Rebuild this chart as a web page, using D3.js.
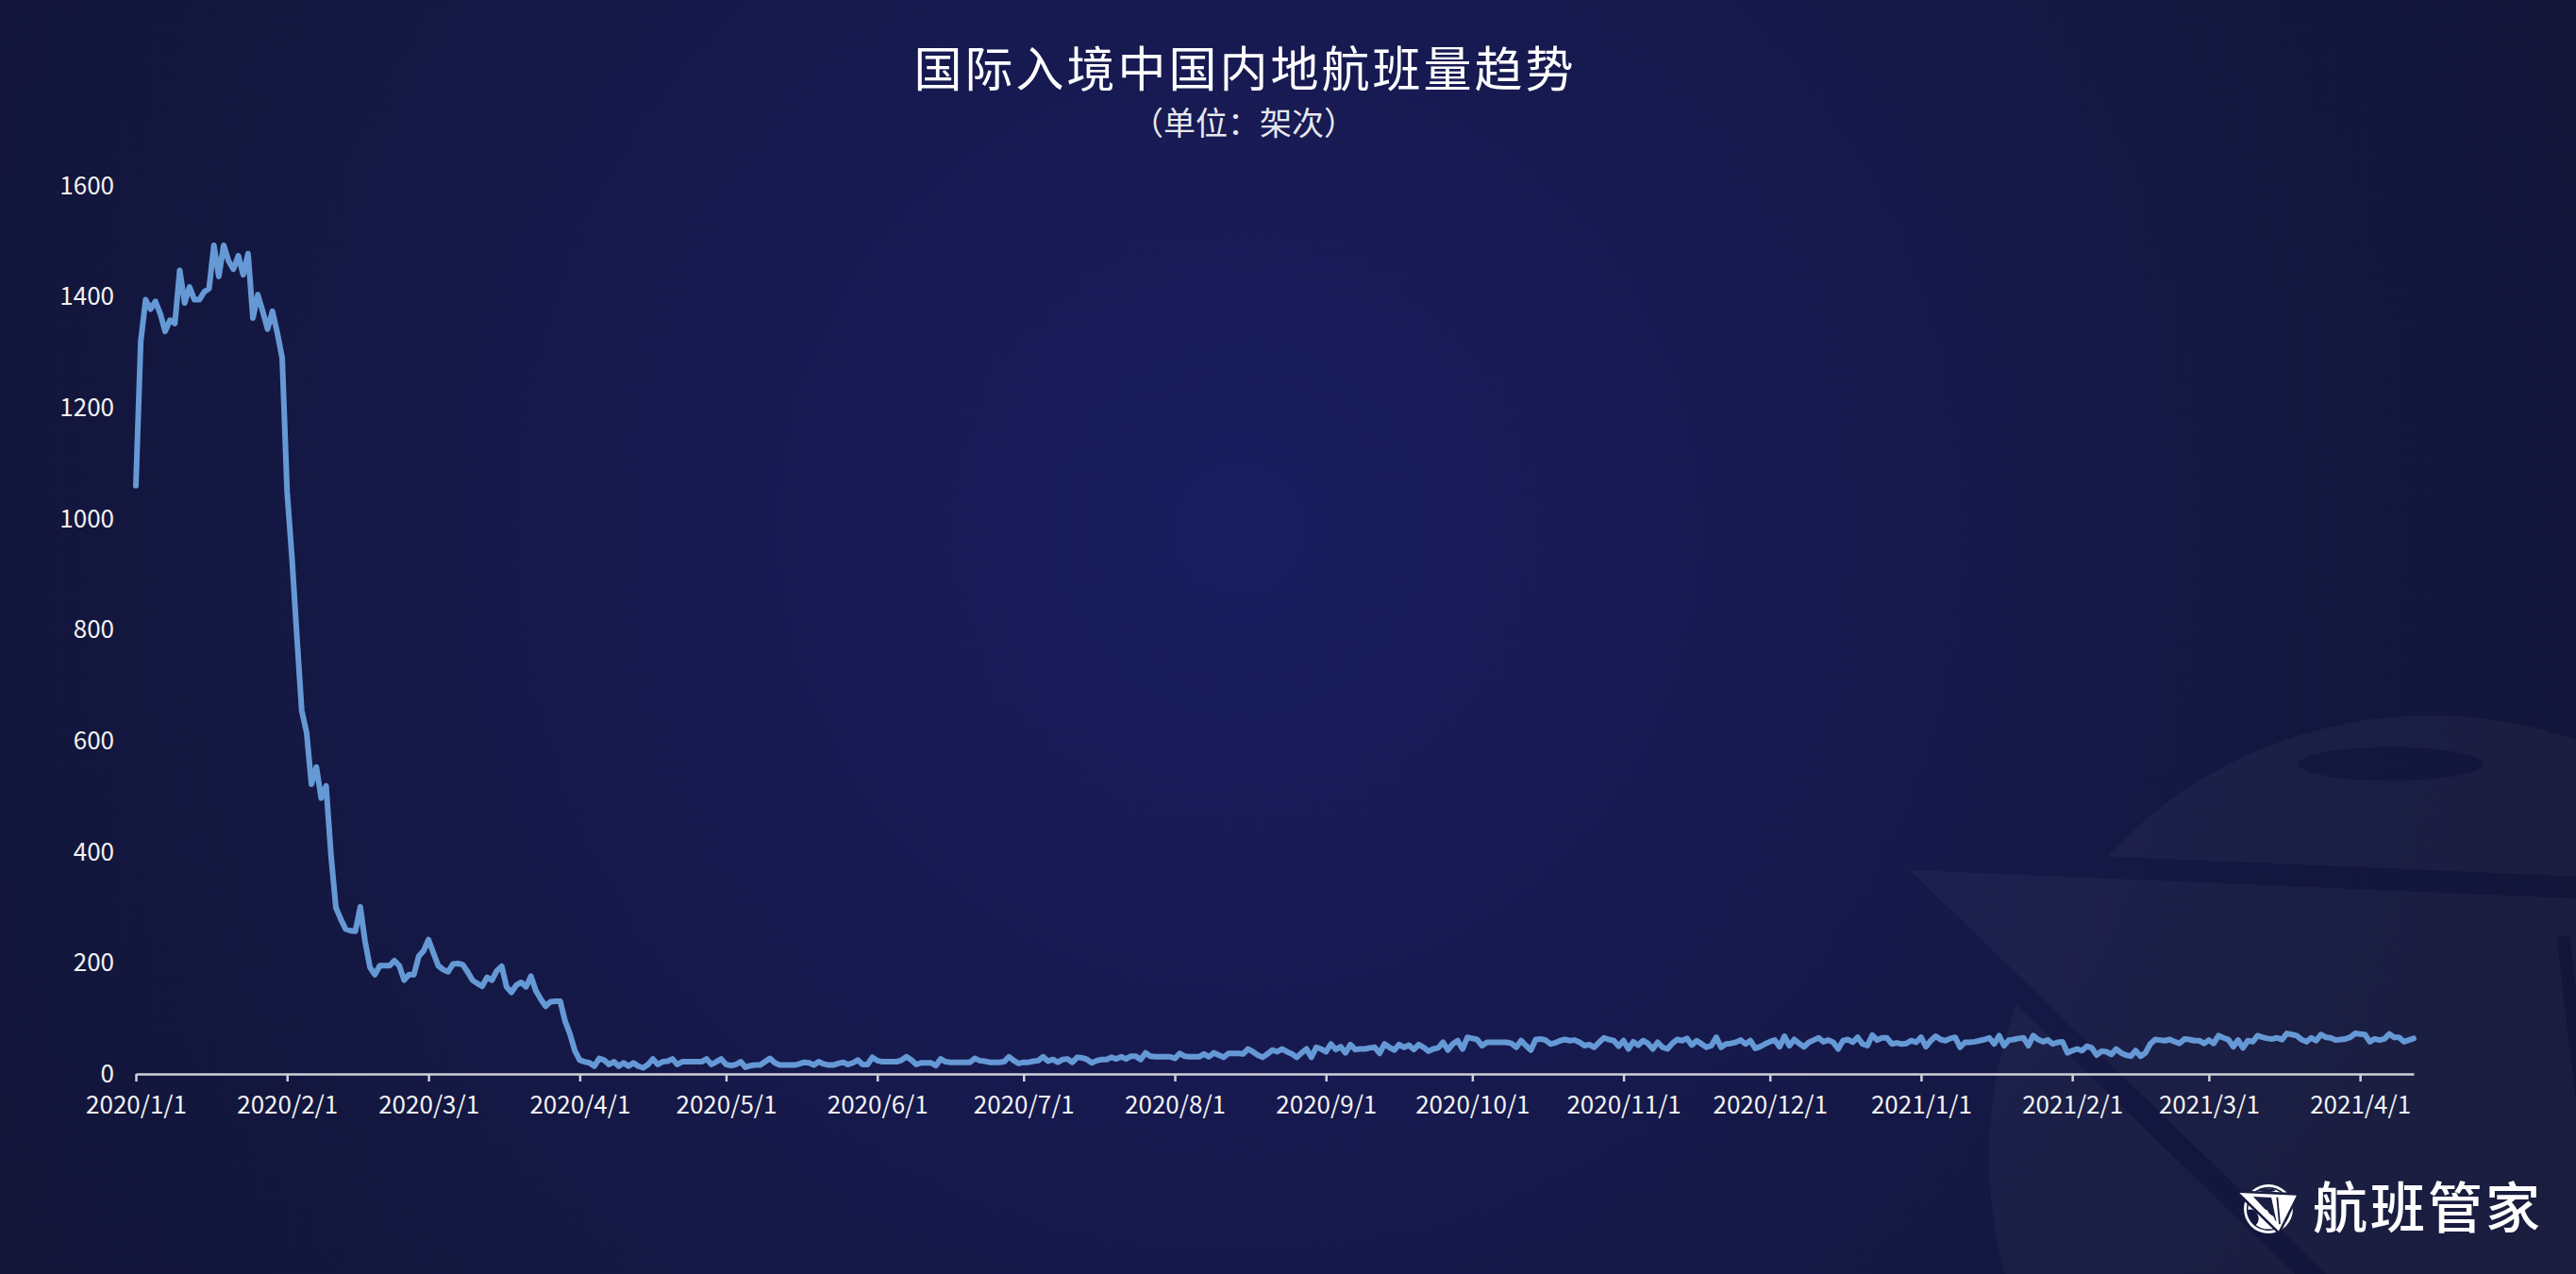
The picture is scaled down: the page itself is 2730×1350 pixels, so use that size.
<!DOCTYPE html>
<html><head><meta charset="utf-8">
<script src="https://cdn.jsdelivr.net/npm/d3@7"></script>
<style>html,body{margin:0;padding:0;background:#131639;overflow:hidden}text{font-family:"Noto Sans CJK SC","Noto Sans",sans-serif}</style>
</head><body><svg id="chart" width="2730" height="1350"></svg>
<script>
// ---------------- DATA ----------------
const chartTitle = "国际入境中国内地航班量趋势";
const chartSubtitle = "（单位：架次）";
const brandName = "航班管家";
const startDate = "2020-01-01";   // first daily value
const m2020_01 = [1060,1320,1395,1378,1392,1370,1338,1358,1352,1448,1389,1418,1395,1395,1409,1415,1493,1437,1493,1465,1450,1474,1440,1478,1362,1404,1374,1342,1374,1335,1290];
const m2020_02 = [1050,930,790,655,615,522,553,497,519,395,300,279,261,258,257,301,238,192,179,195,195,195,204,195,169,179,179,212,222];
const m2020_03 = [242,218,195,188,184,198,199,197,184,169,163,158,174,169,186,194,157,147,160,165,157,176,150,135,122,130,131,131,95,72,42];
const m2020_04 = [25,22,20,14,28,25,17,22,14,20,14,20,14,11,17,27,17,22,23,27,17,22,22,22,22,22,27,17,22,27];
const m2020_05 = [17,15,17,22,12,15,16,16,22,28,20,16,16,16,16,18,21,20,16,22,18,16,16,19,21,17,20,25,17,17,30];
const m2020_06 = [24,22,22,22,22,25,31,25,17,20,20,20,15,27,22,21,21,21,21,21,28,24,23,21,21,21,22,31,24,19];
const m2020_07 = [21,21,23,24,31,23,26,21,26,27,21,30,29,26,20,24,26,26,30,27,31,27,32,32,26,38,32,31,31,31,31];
const m2020_08 = [28,37,32,31,31,31,36,31,38,34,30,37,37,37,36,45,40,34,30,36,43,40,45,40,36,30,38,45,30,48,45];
const m2020_09 = [40,54,44,49,38,53,44,45,45,47,48,37,54,48,43,53,48,52,44,53,48,41,45,47,57,43,54,60,45,66];
const m2020_10 = [64,62,51,57,57,57,57,57,55,48,60,51,43,62,63,61,54,56,60,62,60,61,57,51,53,48,57,65,62,60,50];
const m2020_11 = [60,45,58,52,60,55,45,57,48,45,55,62,60,64,52,60,54,48,51,66,48,54,55,57,61,54,60,46,49,54];
const m2020_12 = [58,61,49,68,51,62,55,49,57,61,65,58,61,57,45,60,62,57,66,54,51,70,61,65,65,54,56,54,55,60,57];
const m2021_01 = [66,49,60,68,62,60,64,66,48,57,57,58,60,62,65,54,69,51,61,62,64,65,51,69,62,58,61,54,57,58,38];
const m2021_02 = [42,45,42,50,47,34,41,40,35,45,38,34,32,42,32,38,54,62,61,60,62,58,55,63,62,60,60,55];
const m2021_03 = [61,55,69,65,62,49,61,47,60,58,69,66,64,63,65,62,73,71,69,62,58,65,60,71,66,65,61,62,63,66,73];
const m2021_04 = [72,71,58,63,61,63,72,66,66,58,61,64];
const xTickLabels = ["2020/1/1","2020/2/1","2020/3/1","2020/4/1","2020/5/1","2020/6/1","2020/7/1","2020/8/1","2020/9/1","2020/10/1","2020/11/1","2020/12/1","2021/1/1","2021/2/1","2021/3/1","2021/4/1"];
const yTickValues = [0,200,400,600,800,1000,1200,1400,1600];

// ---------------- BUILD ----------------
const W = 2730, H = 1350;
const dailyValues = [].concat(m2020_01,m2020_02,m2020_03,m2020_04,m2020_05,m2020_06,m2020_07,m2020_08,m2020_09,m2020_10,m2020_11,m2020_12,m2021_01,m2021_02,m2021_03,m2021_04);
const parseISO = d3.timeParse("%Y-%m-%d");
const parseTick = d3.timeParse("%Y/%m/%d");
const t0 = parseISO(startDate);
const data = dailyValues.map((v,i) => ({date: d3.timeDay.offset(t0, i), value: v}));
const tickDates = xTickLabels.map(s => parseTick(s));

const svg = d3.select("#chart");
const defs = svg.append("defs");

// background radial gradient
const bg = defs.append("radialGradient").attr("id","bg")
  .attr("gradientUnits","userSpaceOnUse").attr("cx",1314).attr("cy",560).attr("r",1550);
bg.append("stop").attr("offset","0%").attr("stop-color","#1a1d5f");
bg.append("stop").attr("offset","35%").attr("stop-color","#171a51");
bg.append("stop").attr("offset","75%").attr("stop-color","#13173f");
bg.append("stop").attr("offset","100%").attr("stop-color","#121538");
svg.append("rect").attr("width",W).attr("height",H).attr("fill","url(#bg)");

// logo mask (unit circle coordinates)
const wingOuter = "M-1.18,-0.65 L1.15,-0.55 L0.42,0.9 Z";
function logoMask(id, cx, cy, r, detailed) {
  const m = defs.append("mask").attr("id", id).attr("maskUnits","userSpaceOnUse")
    .attr("x",0).attr("y",0).attr("width",W).attr("height",H);
  m.append("rect").attr("width",W).attr("height",H).attr("fill","#000");
  const g = m.append("g").attr("transform",`translate(${cx},${cy}) scale(${r})`);
  g.append("circle").attr("r",1).attr("fill","#fff");
  if (detailed) {
    g.append("circle").attr("r",0.86).attr("fill","none").attr("stroke","#000").attr("stroke-width",0.06);
    g.append("ellipse").attr("cx",-0.05).attr("cy",-0.76).attr("rx",0.34).attr("ry",0.07).attr("fill","#000");
    g.append("path").attr("d","M-0.85,0.05 Q-0.6,-0.05 -0.45,0.2 Q-0.3,0.5 -0.55,0.7 Q-0.8,0.5 -0.85,0.05Z").attr("fill","#000");
  } else {
    g.append("ellipse").attr("cx",-0.09).attr("cy",-0.89).attr("rx",0.21).attr("ry",0.038).attr("fill","#000");
  }
  g.append("path").attr("d",wingOuter).attr("fill","#000").attr("stroke","#000")
    .attr("stroke-width",detailed ? 0.2 : 0.1).attr("stroke-linejoin","round");
  g.append("path").attr("d",wingOuter).attr("fill","#fff");
  if (detailed) {
    g.append("path").attr("d","M-0.62,-0.5 L0.12,-0.46 L0.33,0.52 Z").attr("fill","#000");
    g.append("path").attr("d","M-0.35,-0.2 Q-0.2,0.05 -0.05,0.05 Q0.05,0.25 0.2,0.3 L0.28,0.45 Q0,0.3 -0.35,-0.2Z").attr("fill","#fff");
    g.append("line").attr("x1",0.36).attr("y1",-0.47).attr("x2",0.46).attr("y2",0.62)
      .attr("stroke","#000").attr("stroke-width",0.07);
  } else {
    g.append("line").attr("x1",0.3).attr("y1",-0.5).attr("x2",0.44).attr("y2",0.7)
      .attr("stroke","#000").attr("stroke-width",0.03);
  }
}
logoMask("wm", 2576, 1226, 468, false);
logoMask("lg", 2404, 1281, 26, true);
svg.append("rect").attr("width",W).attr("height",H).attr("fill","#ffffff")
  .attr("opacity",0.03).attr("mask","url(#wm)");

// scales
const x = d3.scaleTime().domain(d3.extent(data, d => d.date)).range([144, 2558]);
const y = d3.scaleLinear().domain([0, 1600]).range([1138, 197]);

// y axis (labels only)
const yAxis = svg.append("g").attr("transform","translate(121,0)")
  .call(d3.axisLeft(y).tickValues(yTickValues).tickSize(0).tickPadding(0).tickFormat(d3.format("d")));
yAxis.select(".domain").remove();
yAxis.selectAll("text").attr("font-size",26).attr("fill","#f2f2f2")
  .style("font-family",'"Noto Sans CJK SC",sans-serif');

// x axis
const xAxis = svg.append("g").attr("transform",`translate(0,${y(0)})`)
  .call(d3.axisBottom(x).tickValues(tickDates).tickSize(8).tickSizeOuter(0).tickPadding(16)
    .tickFormat((d,i) => xTickLabels[i]));
xAxis.select(".domain").attr("stroke","#cfd0d8").attr("stroke-width",2.5);
xAxis.selectAll(".tick line").attr("stroke","#cfd0d8").attr("stroke-width",2.5);
xAxis.selectAll("text").attr("font-size",26).attr("fill","#f2f2f2")
  .style("font-family",'"Noto Sans CJK SC",sans-serif');

// line
const line = d3.line().x(d => x(d.date)).y(d => y(d.value));
svg.append("path").datum(data).attr("d", line).attr("fill","none")
  .attr("stroke","#6599d6").attr("stroke-width",6)
  .attr("stroke-linejoin","round").attr("stroke-linecap","round");

// title
svg.append("text").attr("x",1318 + 1.5).attr("y",92).attr("text-anchor","middle")
  .attr("font-size",51).attr("letter-spacing",3).attr("fill","#ffffff").text(chartTitle);
svg.append("text").attr("x",1318).attr("y",143).attr("text-anchor","middle")
  .attr("font-size",34).attr("fill","#e8e8ee").text(chartSubtitle);

// brand logo
svg.append("rect").attr("width",W).attr("height",H).attr("fill","#ffffff").attr("mask","url(#lg)");
svg.append("text").attr("x",2451).attr("y",1301).attr("font-size",58).attr("letter-spacing",3)
  .attr("font-weight",500).attr("fill","#ffffff").text(brandName);
</script></body></html>
